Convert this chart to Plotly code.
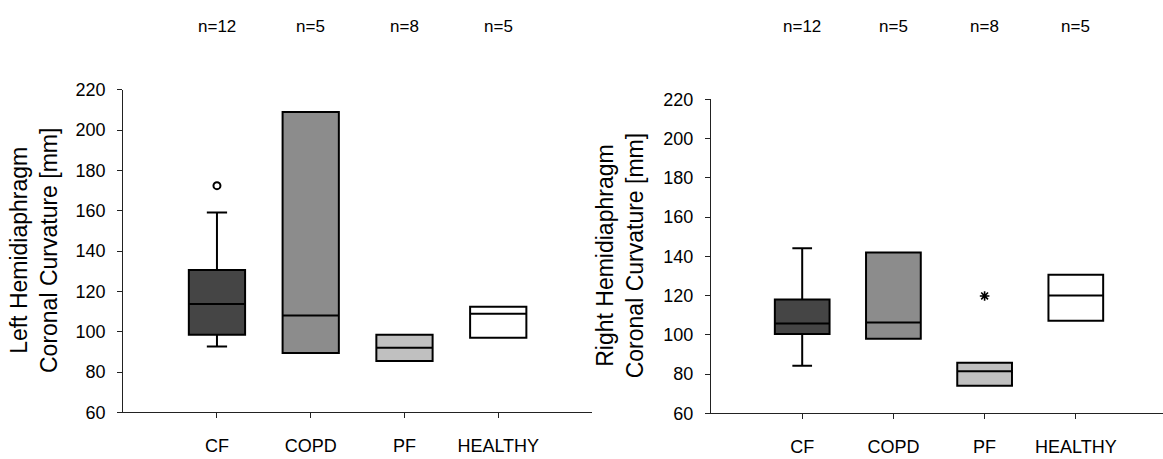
import plotly.graph_objects as go

# Groups and sample sizes
groups = ["CF", "COPD", "PF", "HEALTHY"]
n_counts = [12, 5, 8, 5]
fill_colors = ["#454545", "#8c8c8c", "#c0c0c0", "#ffffff"]

# Left hemidiaphragm coronal curvature [mm]: box statistics per group
left_q1 = [98.5, 89.4, 85.5, 97.0]
left_median = [113.7, 108.0, 92.1, 108.9]
left_q3 = [130.6, 208.9, 98.5, 112.4]
left_low = [92.6, 89.4, 85.5, 97.0]
left_high = [159.1, 208.9, 98.5, 112.4]
left_outlier_group = ["CF"]
left_outlier_value = [172.4]

# Right hemidiaphragm coronal curvature [mm]: box statistics per group
right_q1 = [100.4, 98.0, 74.1, 107.2]
right_median = [105.8, 106.3, 81.4, 120.0]
right_q3 = [118.0, 141.9, 85.8, 130.6]
right_low = [84.2, 98.0, 74.1, 107.2]
right_high = [144.1, 141.9, 85.8, 130.6]
right_outlier_group = ["PF"]
right_outlier_value = [119.8]

y_ticks = [60, 80, 100, 120, 140, 160, 180, 200, 220]

W, H = 1163, 459
FONT = "Liberation Sans, Arial, sans-serif"

fig = go.Figure()


def add_panel(xa, ya, q1, med, q3, lo, hi):
    for i, g in enumerate(groups):
        fig.add_trace(go.Box(
            x=[i], q1=[q1[i]], median=[med[i]], q3=[q3[i]],
            lowerfence=[lo[i]], upperfence=[hi[i]],
            width=0.6, whiskerwidth=0.36,
            fillcolor=fill_colors[i],
            line=dict(color="black", width=2),
            boxpoints=False, showlegend=False, hoverinfo="skip",
            xaxis=xa, yaxis=ya,
        ))


add_panel("x", "y", left_q1, left_median, left_q3, left_low, left_high)
add_panel("x2", "y2", right_q1, right_median, right_q3, right_low, right_high)

# Outlying points
fig.add_trace(go.Scatter(
    x=[groups.index(g) for g in left_outlier_group], y=left_outlier_value,
    mode="markers", xaxis="x", yaxis="y", showlegend=False,
    marker=dict(symbol="circle-open", size=7, color="black", line=dict(width=2)),
))
fig.add_trace(go.Scatter(
    x=[groups.index(g) for g in right_outlier_group], y=right_outlier_value,
    mode="markers", xaxis="x2", yaxis="y2", showlegend=False,
    marker=dict(symbol="asterisk-open", size=8, color="black", line=dict(width=1.6, color="black")),
))

axis_common = dict(
    showline=True, linecolor="#222222", linewidth=1,
    ticks="outside", ticklen=5, tickcolor="#222222", tickwidth=1,
    showgrid=False, zeroline=False,
    tickfont=dict(family=FONT, size=18, color="black"),
)

fig.update_layout(
    width=W, height=H,
    margin=dict(l=0, r=0, t=0, b=0),
    paper_bgcolor="white", plot_bgcolor="white",
    boxmode="overlay",
    xaxis=dict(domain=[123.2 / W, 592 / W], range=[-1, 4], anchor="y",
               tickvals=list(range(len(groups))), ticktext=groups,
               ticklabelstandoff=12, **axis_common),
    yaxis=dict(domain=[(H - 420.7) / H, (H - 83.3) / H], range=[60, 220], anchor="x",
               tickvals=y_ticks, ticklabelstandoff=8, **axis_common),
    xaxis2=dict(domain=[711 / W, 1.0], range=[-1, 3.956], anchor="y2",
                tickvals=list(range(len(groups))), ticktext=groups,
                ticklabelstandoff=12, **axis_common),
    yaxis2=dict(domain=[(H - 421.7) / H, (H - 93.3) / H], range=[60, 220], anchor="x2",
                tickvals=y_ticks, ticklabelstandoff=8, **axis_common),
)

annotations = []
# Sample sizes above each group
for i, n in enumerate(n_counts):
    for xr in ("x", "x2"):
        annotations.append(dict(
            x=i, y=(H - 17) / H, xref=xr, yref="paper",
            text=f"n={n}", showarrow=False,
            xanchor="center", yanchor="middle",
            font=dict(family=FONT, size=17, color="black"),
        ))

# Axis titles
annotations.append(dict(
    x=34 / W, y=(H - 252) / H, xref="paper", yref="paper",
    text="Left Hemidiaphragm<br>Coronal Curvature [mm]", textangle=-90,
    showarrow=False, xanchor="center", yanchor="middle",
    font=dict(family=FONT, size=23, color="black"),
))
annotations.append(dict(
    x=620 / W, y=(H - 257.5) / H, xref="paper", yref="paper",
    text="Right Hemidiaphragm<br>Coronal Curvature [mm]", textangle=-90,
    showarrow=False, xanchor="center", yanchor="middle",
    font=dict(family=FONT, size=23, color="black"),
))
fig.update_layout(annotations=annotations)

fig.write_html("out.html")
